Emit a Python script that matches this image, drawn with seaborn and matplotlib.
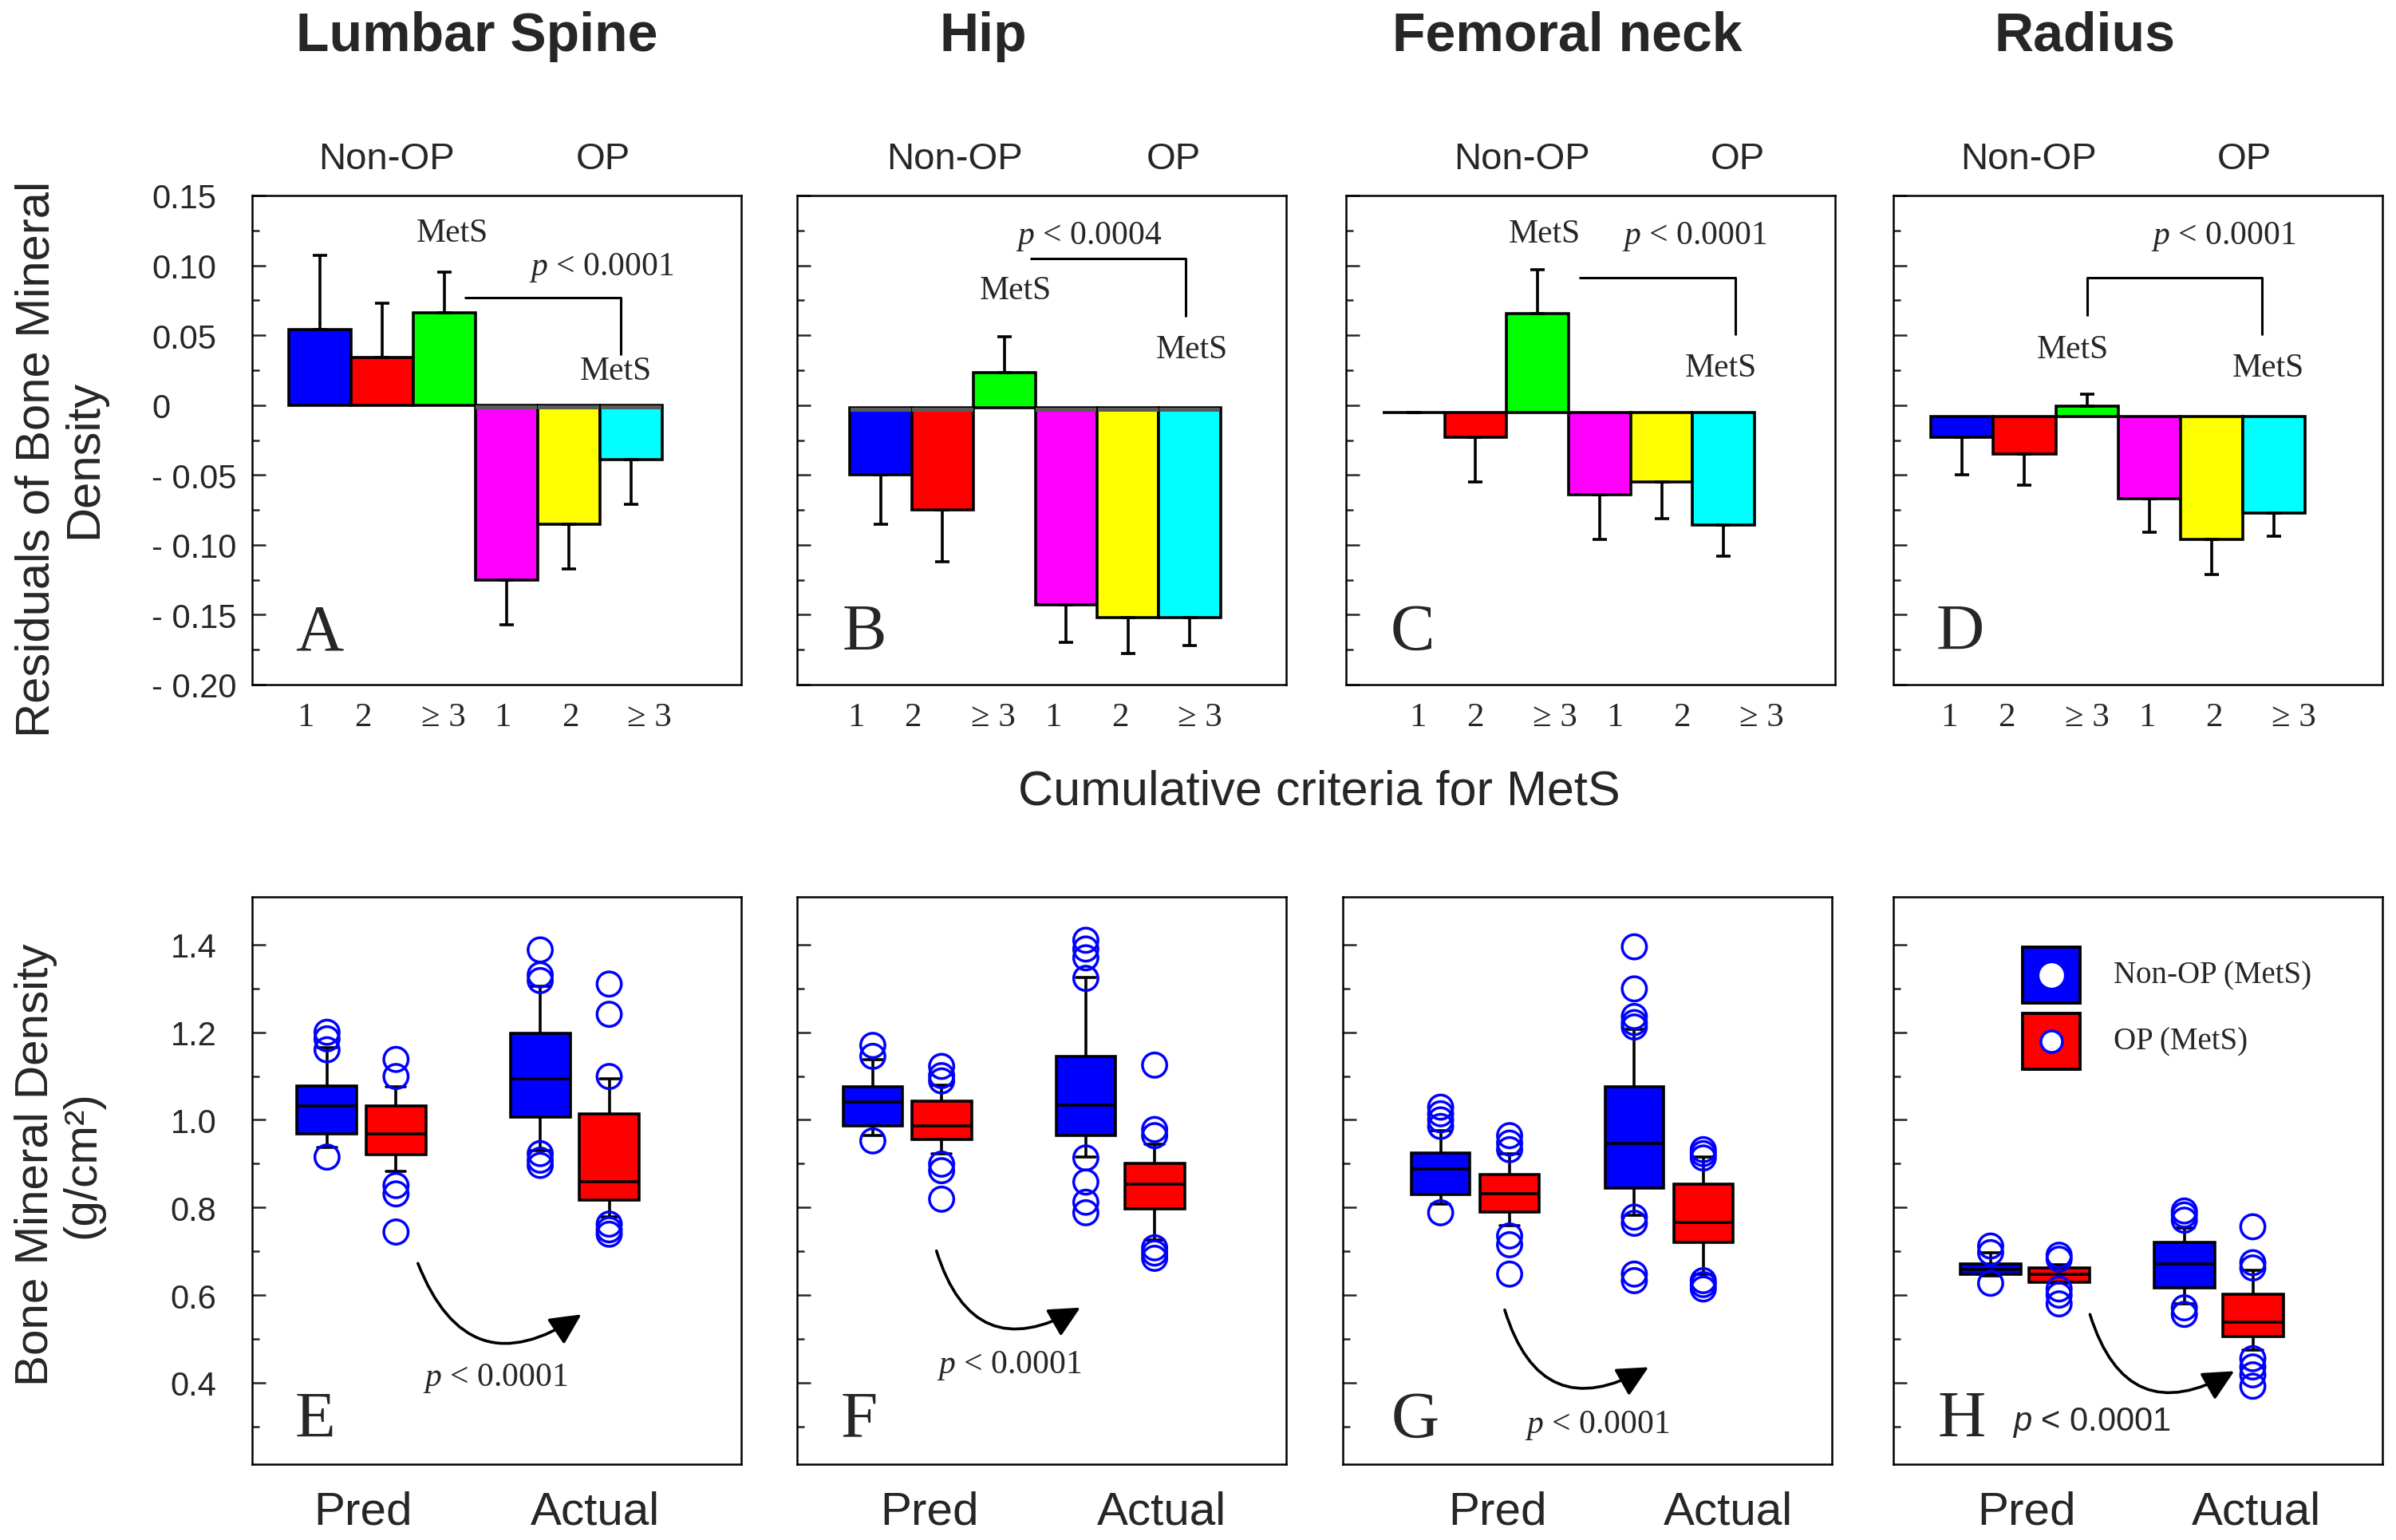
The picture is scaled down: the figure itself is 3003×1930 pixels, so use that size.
import numpy as np
import pandas as pd
import matplotlib
matplotlib.use("Agg")
import matplotlib.pyplot as plt
from matplotlib.patches import Rectangle
import seaborn as sns

# ---------------- data ----------------
SITES = ["Lumbar Spine", "Hip", "Femoral neck", "Radius"]
TOP_GROUPS = ["Non-OP", "OP"]
CRITERIA = ["1", "2", "\u2265 3", "1", "2", "\u2265 3"]
TOP_LETTERS = ["A", "B", "C", "D"]
BOTTOM_LETTERS = ["E", "F", "G", "H"]

# residuals of BMD (bar value) and error-bar tip, per site
LUMBAR_RES = [0.054, 0.034, 0.066, -0.125, -0.085, -0.039]
LUMBAR_TIP = [0.107, 0.073, 0.095, -0.157, -0.117, -0.071]
HIP_RES = [-0.050, -0.075, 0.023, -0.143, -0.152, -0.152]
HIP_TIP = [-0.085, -0.112, 0.049, -0.170, -0.178, -0.172]
NECK_RES = [-0.0055, -0.023, 0.0655, -0.064, -0.055, -0.086]
NECK_TIP = [-0.0055, -0.055, 0.097, -0.096, -0.081, -0.108]
RADIUS_RES = [-0.023, -0.035, -0.001, -0.067, -0.096, -0.077]
RADIUS_TIP = [-0.050, -0.057, 0.008, -0.091, -0.121, -0.094]
BAR_BASE = [0.0, -0.002, -0.0055, -0.008]

TOP_P = ["0.0001", "0.0004", "0.0001", "0.0001"]
BOTTOM_P = ["0.0001", "0.0001", "0.0001", "0.0001"]

RES_TICKS = [-0.20, -0.15, -0.10, -0.05, 0.0, 0.05, 0.10, 0.15]
RES_TICK_LABELS = ["- 0.20", "- 0.15", "- 0.10", "- 0.05", "0", "0.05", "0.10", "0.15"]
BMD_TICKS = [0.4, 0.6, 0.8, 1.0, 1.2, 1.4]
BMD_TICK_LABELS = ["0.4", "0.6", "0.8", "1.0", "1.2", "1.4"]

MEASURES = ["Pred", "Actual"]
BOX_GROUPS = ["Non-OP (MetS)", "OP (MetS)"]

# box stats [lower whisker, Q1, median, Q3, upper whisker]
# order: Pred Non-OP, Pred OP, Actual Non-OP, Actual OP
LUMBAR_BOX = [[0.937, 0.968, 1.031, 1.077, 1.164],
              [0.882, 0.920, 0.968, 1.031, 1.075],
              [0.930, 1.007, 1.093, 1.197, 1.305],
              [0.778, 0.817, 0.858, 1.014, 1.093]]
LUMBAR_OUT = [[1.200, 1.185, 1.160, 0.915],
              [1.138, 1.099, 0.850, 0.831, 0.744],
              [1.388, 1.331, 1.318, 0.923, 0.908, 0.896],
              [1.310, 1.241, 1.099, 0.762, 0.749, 0.739]]
HIP_BOX = [[0.964, 0.987, 1.041, 1.075, 1.138],
           [0.923, 0.956, 0.987, 1.043, 1.080],
           [0.916, 0.964, 1.034, 1.144, 1.325],
           [0.725, 0.797, 0.853, 0.901, 0.945]]
HIP_OUT = [[1.170, 1.145, 0.952],
           [1.122, 1.101, 1.089, 0.899, 0.884, 0.819],
           [1.410, 1.390, 1.370, 1.323, 0.913, 0.858, 0.812, 0.788],
           [1.125, 0.978, 0.964, 0.708, 0.696, 0.684]]
NECK_BOX = [[0.807, 0.829, 0.887, 0.925, 0.976],
            [0.759, 0.790, 0.831, 0.876, 0.923],
            [0.783, 0.844, 0.947, 1.075, 1.207],
            [0.648, 0.720, 0.765, 0.853, 0.916]]
NECK_OUT = [[1.029, 1.014, 1.000, 0.985, 0.788],
            [0.964, 0.947, 0.932, 0.735, 0.715, 0.648],
            [1.395, 1.299, 1.236, 1.222, 1.212, 0.778, 0.764, 0.648, 0.633],
            [0.932, 0.923, 0.913, 0.633, 0.624, 0.614]]
RADIUS_BOX = [[0.643, 0.648, 0.659, 0.672, 0.696],
              [0.627, 0.630, 0.648, 0.662, 0.670],
              [0.580, 0.617, 0.672, 0.720, 0.754],
              [0.474, 0.506, 0.539, 0.602, 0.657]]
RADIUS_OUT = [[0.712, 0.697, 0.627],
              [0.691, 0.682, 0.614, 0.600, 0.580],
              [0.792, 0.783, 0.771, 0.571, 0.556],
              [0.756, 0.674, 0.662, 0.455, 0.436, 0.418, 0.392]]

RES_SERIES = [(LUMBAR_RES, LUMBAR_TIP), (HIP_RES, HIP_TIP), (NECK_RES, NECK_TIP), (RADIUS_RES, RADIUS_TIP)]
BOX_SERIES = [(LUMBAR_BOX, LUMBAR_OUT), (HIP_BOX, HIP_OUT), (NECK_BOX, NECK_OUT), (RADIUS_BOX, RADIUS_OUT)]

# ---------------- style ----------------
BAR_COLORS = ["#0000FF", "#FF0000", "#00FF00", "#FF00FF", "#FFFF00", "#00FFFF"]
BOX_COLORS = ["#0000FF", "#FF0000"]
OUT_COLOR = "#0000FF"

sns.set_style("white")
plt.rcParams.update({
    "font.family": ["Liberation Sans", "DejaVu Sans"],
    "mathtext.fontset": "custom",
    "mathtext.rm": "Liberation Serif",
    "mathtext.it": "Liberation Serif:italic",
    "mathtext.sf": "Liberation Sans:italic",
    "axes.linewidth": 1.8,
    "axes.edgecolor": "black",
    "xtick.bottom": False,
    "ytick.left": True,
})
SERIF = ["Liberation Serif", "DejaVu Serif"]
SANS = ["Liberation Sans", "DejaVu Sans"]

W, H = 3003, 1931
fig = plt.figure(figsize=(W / 100, H / 100), dpi=100)


def add_px_axes(left, top, width, height):
    return fig.add_axes([left / W, 1 - (top + height) / H, width / W, height / H])


TOP_LEFTS = [316, 999, 1687, 2373]
BOT_LEFTS = [316, 999, 1683, 2373]
AX_W = 613
TOP_Y, TOP_H = 246, 613
BOT_Y, BOT_H = 1125, 711

CRIT_STEP = [0, 0.117, 0.281, 0.403, 0.54, 0.703]

TOP_CFG = [
    dict(xlim=(-1.088, 6.77), crit0=0.110, title_x=0.459, nonop_x=0.275, op_x=0.717, letter_x=0.088,
         band=(3, 4, 5), mets=[(2.13, 0.1234), (4.755, 0.0247)], p=(4.52, 0.099),
         bracket=([2.32, 4.84, 4.84], [0.077, 0.077, 0.036])),
    dict(xlim=(-1.357, 6.56), crit0=0.120, title_x=0.381, nonop_x=0.323, op_x=0.769, letter_x=0.093,
         band=(0, 1, 3, 4, 5), mets=[(2.18, 0.082), (5.03, 0.040)], p=(3.36, 0.121),
         bracket=([2.42, 4.935, 4.935], [0.105, 0.105, 0.063])),
    dict(xlim=(-1.092, 6.80), crit0=0.147, title_x=0.452, nonop_x=0.359, op_x=0.800, letter_x=0.090,
         band=(), mets=[(2.11, 0.123), (4.955, 0.0267)], p=(4.53, 0.121),
         bracket=([2.665, 5.19, 5.19], [0.091, 0.091, 0.050])),
    dict(xlim=(-1.105, 6.74), crit0=0.115, title_x=0.391, nonop_x=0.277, op_x=0.717, letter_x=0.088,
         band=(), mets=[(1.77, 0.040), (4.906, 0.0267)], p=(4.19, 0.121),
         bracket=([2.0, 2.0, 4.81, 4.81], [0.0637, 0.091, 0.091, 0.050])),
]

BOT_CFG = [
    dict(xlim=(-0.513, 1.781), width=0.647, gap=0.134, pred_x=0.226, act_x=0.702, letter_x=0.088,
         arrow=((0.339, 0.354), (0.673, 0.264)), p=(0.497, 0.153), p_sans=False),
    dict(xlim=(-0.517, 1.779), width=0.646, gap=0.133, pred_x=0.270, act_x=0.745, letter_x=0.089,
         arrow=((0.285, 0.376), (0.579, 0.276)), p=(0.434, 0.175), p_sans=False),
    dict(xlim=(-0.683, 1.842), width=0.712, gap=0.149, pred_x=0.316, act_x=0.788, letter_x=0.099,
         arrow=((0.331, 0.272), (0.625, 0.171)), p=(0.520, 0.070), p_sans=False),
    dict(xlim=(-0.679, 1.846), width=0.707, gap=0.114, pred_x=0.272, act_x=0.742, letter_x=0.091,
         arrow=((0.402, 0.264), (0.697, 0.164)), p=(0.406, 0.074), p_sans=True),
]

LW = 2.6
CAP_SHRINK = 0.64  # cap length relative to seaborn's default (half box width)

# ---------------- top row: residual bars ----------------
res_minor = [(a + b) / 2 for a, b in zip(RES_TICKS[:-1], RES_TICKS[1:])]
for i in range(4):
    cfg = TOP_CFG[i]
    ax = add_px_axes(TOP_LEFTS[i], TOP_Y, AX_W, TOP_H)
    vals, tips = RES_SERIES[i]
    base = BAR_BASE[i]
    x = np.arange(len(vals))
    vals = np.array(vals)
    tips = np.array(tips)
    ax.bar(x, vals - base, bottom=base, width=1.0, color=BAR_COLORS,
           edgecolor="black", linewidth=LW, zorder=2)
    if cfg["band"]:
        idx = list(cfg["band"])
        ax.bar(x[idx], [-0.003] * len(idx), bottom=base, width=0.985, color="#5a5a5a",
               linewidth=0, zorder=2.5)
    lower = np.where(tips < vals, vals - tips, 0.0)
    upper = np.where(tips > vals, tips - vals, 0.0)
    ax.errorbar(x, vals, yerr=[lower, upper], fmt="none", ecolor="black",
                elinewidth=LW, capsize=6.5, capthick=LW, zorder=3)
    ax.set_xlim(*cfg["xlim"])
    ax.set_ylim(RES_TICKS[0], RES_TICKS[-1])
    ax.set_xticks([])
    ax.set_yticks(RES_TICKS)
    ax.set_yticks(res_minor, minor=True)
    ax.tick_params(axis="y", which="major", direction="in", length=12.5, width=1.8)
    ax.tick_params(axis="y", which="minor", direction="in", length=6.5, width=1.8)
    if i == 0:
        ax.set_yticklabels(RES_TICK_LABELS, fontsize=30, family=SANS)
        ax.tick_params(axis="y", which="major", pad=90.7)
        for lbl in ax.get_yticklabels():
            lbl.set_horizontalalignment("left")
    else:
        ax.tick_params(axis="y", labelleft=False)
    for s in ax.spines.values():
        s.set_visible(True)
        s.set_linewidth(1.8)
        s.set_color("black")
    # criteria labels
    for k, lab in enumerate(CRITERIA):
        ax.text(cfg["crit0"] + CRIT_STEP[k], -(910 - (TOP_Y + TOP_H)) / TOP_H, lab,
                transform=ax.transAxes, ha="center", va="baseline", fontsize=31, family=SERIF)
    # titles and group labels
    ax.text(cfg["title_x"], 1 + (TOP_Y - 64) / TOP_H, SITES[i], transform=ax.transAxes,
            ha="center", va="baseline", fontsize=49, fontweight="bold", family=SANS)
    ax.text(cfg["nonop_x"], 1 + (TOP_Y - 212) / TOP_H, TOP_GROUPS[0], transform=ax.transAxes,
            ha="center", va="baseline", fontsize=34, family=SANS)
    ax.text(cfg["op_x"], 1 + (TOP_Y - 212) / TOP_H, TOP_GROUPS[1], transform=ax.transAxes,
            ha="center", va="baseline", fontsize=34, family=SANS)
    # annotations
    for (mx, my) in cfg["mets"]:
        ax.text(mx, my, "MetS", ha="center", va="center", fontsize=30, family=SERIF)
    ax.text(cfg["p"][0], cfg["p"][1], r"$\mathit{p}$ < " + TOP_P[i], ha="center", va="center",
            fontsize=30, family=SERIF)
    bx, by = cfg["bracket"]
    ax.plot(bx, by, color="black", lw=2.2, solid_capstyle="butt", zorder=3)
    ax.text(cfg["letter_x"], 0.073, TOP_LETTERS[i], transform=ax.transAxes,
            ha="left", va="baseline", fontsize=60, family=SERIF)

# ---------------- bottom row: BMD box plots ----------------
bmd_minor = [round(t - 0.1, 2) for t in BMD_TICKS]
for i in range(4):
    cfg = BOT_CFG[i]
    ax = add_px_axes(BOT_LEFTS[i], BOT_Y, AX_W, BOT_H)
    boxes, outs = BOX_SERIES[i]
    rows = []
    j = 0
    for m in MEASURES:
        for g in BOX_GROUPS:
            for v in boxes[j]:
                rows.append((m, g, v))
            j += 1
    df = pd.DataFrame(rows, columns=["measure", "group", "bmd"])
    sns.boxplot(data=df, x="measure", y="bmd", hue="group", order=MEASURES,
                hue_order=BOX_GROUPS, palette=BOX_COLORS, saturation=1,
                width=cfg["width"], gap=cfg["gap"], whis=(0, 100), showfliers=False,
                linecolor="black", linewidth=LW, legend=False, ax=ax)
    # narrow the whisker caps (caps are the short horizontal 2-point lines)
    box_w = cfg["width"] / 2 * (1 - cfg["gap"])
    for ln in ax.lines:
        xd = np.asarray(ln.get_xdata(), dtype=float)
        yd = np.asarray(ln.get_ydata(), dtype=float)
        if len(xd) == 2 and yd[0] == yd[1] and abs(xd[1] - xd[0]) < 0.75 * box_w:
            c = xd.mean()
            half = (xd[1] - xd[0]) / 2 * CAP_SHRINK
            ln.set_xdata([c - half, c + half])
    # outliers
    off = cfg["width"] / 4
    j = 0
    for mi, m in enumerate(MEASURES):
        for gi, g in enumerate(BOX_GROUPS):
            xs = [mi + (-off if gi == 0 else off)] * len(outs[j])
            ax.scatter(xs, outs[j], s=480, facecolors="none", edgecolors=OUT_COLOR,
                       linewidths=2.5, zorder=4, clip_on=False)
            j += 1
    ax.set_xlim(*cfg["xlim"])
    ax.set_ylim(0.214, 1.509)
    ax.set_xticks([])
    ax.set_xlabel("")
    ax.set_ylabel("")
    ax.set_yticks(BMD_TICKS)
    ax.set_yticks(bmd_minor, minor=True)
    ax.tick_params(axis="y", which="major", direction="in", length=12.5, width=1.8)
    ax.tick_params(axis="y", which="minor", direction="in", length=6.5, width=1.8)
    if i == 0:
        ax.set_yticklabels(BMD_TICK_LABELS, fontsize=30, family=SANS)
        ax.tick_params(axis="y", which="major", pad=32)
    else:
        ax.tick_params(axis="y", labelleft=False)
    for s in ax.spines.values():
        s.set_visible(True)
        s.set_linewidth(1.8)
        s.set_color("black")
    # category labels
    yb = -(1911 - (BOT_Y + BOT_H)) / BOT_H
    ax.text(cfg["pred_x"], yb, MEASURES[0], transform=ax.transAxes, ha="center",
            va="baseline", fontsize=42, family=SANS)
    ax.text(cfg["act_x"], yb, MEASURES[1], transform=ax.transAxes, ha="center",
            va="baseline", fontsize=42, family=SANS)
    # arrow + p value
    (sx, sy), (ex, ey) = cfg["arrow"]
    ax.annotate("", xy=(ex, ey), xytext=(sx, sy), xycoords="axes fraction",
                textcoords="axes fraction",
                arrowprops=dict(arrowstyle="-|>,head_length=0.85,head_width=0.42",
                                connectionstyle="arc3,rad=0.62", color="black", lw=2.6,
                                mutation_scale=28, shrinkA=0, shrinkB=0))
    if cfg["p_sans"]:
        ptxt = r"$\mathsf{p}$ < " + BOTTOM_P[i]
        fam = SANS
    else:
        ptxt = r"$\mathit{p}$ < " + BOTTOM_P[i]
        fam = SERIF
    ax.text(cfg["p"][0], cfg["p"][1], ptxt, transform=ax.transAxes, ha="center",
            va="center", fontsize=30, family=fam)
    ax.text(cfg["letter_x"], 0.05, BOTTOM_LETTERS[i], transform=ax.transAxes,
            ha="left", va="baseline", fontsize=60, family=SERIF)
    if i == 3:
        # legend drawn as keyed squares
        for k, (yy, col) in enumerate([(0.813, BOX_COLORS[0]), (0.696, BOX_COLORS[1])]):
            ax.add_patch(Rectangle((0.265, yy), 0.116, 0.099, transform=ax.transAxes,
                                   facecolor=col, edgecolor="black", linewidth=2.8, zorder=5))
            ax.scatter([0.323], [yy + 0.0495], transform=ax.transAxes, s=380,
                       facecolors="white",
                       edgecolors=("white" if k == 0 else OUT_COLOR),
                       linewidths=2.6, zorder=6)
            ax.text(0.45, yy + 0.0495, BOX_GROUPS[k], transform=ax.transAxes,
                    ha="left", va="center", fontsize=28, family=SERIF, zorder=6)

# ---------------- figure-level labels ----------------
fig.text(76 / W, 1 - 575 / H, "Residuals of Bone Mineral\nDensity", rotation=90,
         ha="center", va="center", multialignment="center", fontsize=43,
         family=SANS, linespacing=1.1)
fig.text(74 / W, 1 - 1460 / H, "Bone Mineral Density\n(g/cm\u00b2)", rotation=90,
         ha="center", va="center", multialignment="center", fontsize=42,
         family=SANS, linespacing=1.1)
fig.text(1653 / W, 1 - 1009 / H, "Cumulative criteria for MetS", ha="center",
         va="baseline", fontsize=44, family=SANS)

fig.savefig("out.png", dpi=100)
